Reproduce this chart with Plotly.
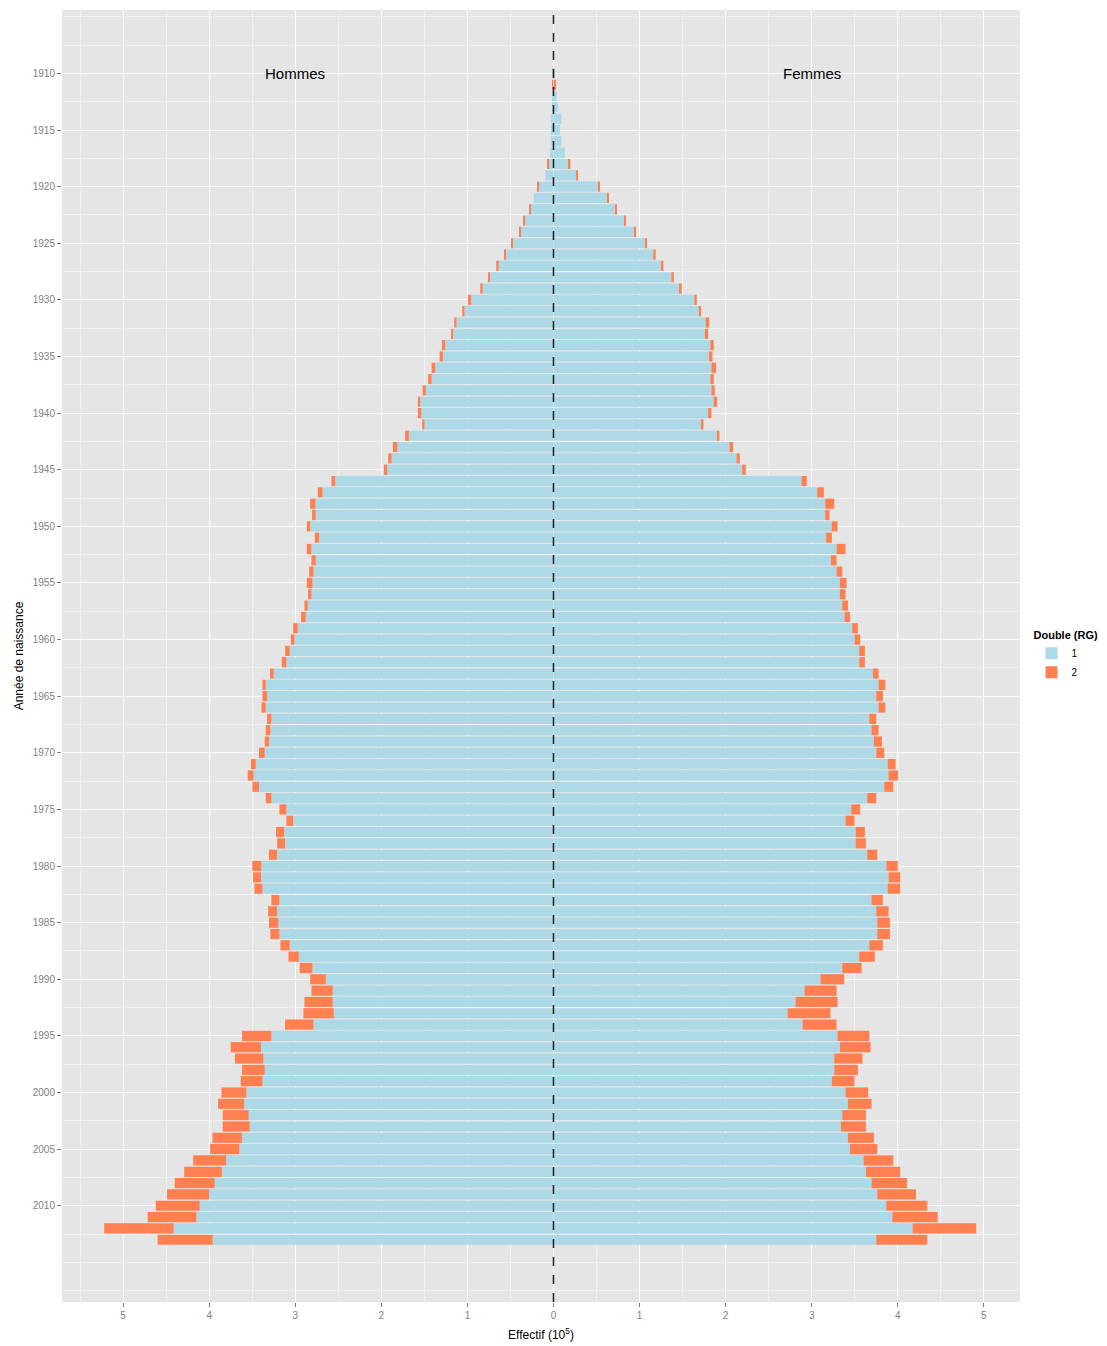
import plotly.graph_objects as go

# Années de naissance 1910-2013, effectifs en unités de 10^5
years = list(range(1910, 2014))

# Hommes : "1" = bleu, "2" = supplément orange
hommes_1 = [
    0.01, 0.005, 0.01, 0.01, 0.03, 0.03, 0.03, 0.04, 0.056, 0.095,
    0.172, 0.227, 0.265, 0.331, 0.38, 0.479, 0.556, 0.637, 0.742, 0.823,
    0.956, 1.033, 1.126, 1.165, 1.258, 1.285, 1.374, 1.416, 1.483, 1.549,
    1.537, 1.498, 1.68, 1.816, 1.881, 1.932, 2.537, 2.684, 2.765, 2.762,
    2.827, 2.723, 2.812, 2.762, 2.788, 2.80, 2.812, 2.855, 2.878, 2.971,
    3.01, 3.064, 3.103, 3.25, 3.343, 3.328, 3.343, 3.277, 3.289, 3.305,
    3.355, 3.459, 3.486, 3.421, 3.277, 3.103, 3.025, 3.13, 3.118, 3.211,
    3.395, 3.398, 3.381, 3.184, 3.211, 3.196, 3.184, 3.064, 2.959, 2.80,
    2.645, 2.564, 2.564, 2.552, 2.788, 3.277, 3.398, 3.37, 3.355, 3.381,
    3.568, 3.595, 3.541, 3.529, 3.62, 3.648, 3.803, 3.853, 3.936, 4.002,
    4.11, 4.149, 4.413, 3.959,
]
hommes_2 = [
    0, 0.01, 0, 0, 0, 0, 0, 0, 0.016, 0,
    0.018, 0, 0.015, 0.016, 0.02, 0.015, 0.016, 0.028, 0.016, 0.028,
    0.038, 0.027, 0.027, 0.025, 0.039, 0.038, 0.042, 0.04, 0.037, 0.027,
    0.039, 0.027, 0.043, 0.05, 0.039, 0.039, 0.042, 0.054, 0.062, 0.043,
    0.039, 0.05, 0.054, 0.05, 0.051, 0.066, 0.039, 0.038, 0.054, 0.054,
    0.042, 0.054, 0.054, 0.043, 0.038, 0.053, 0.05, 0.051, 0.054, 0.05,
    0.066, 0.055, 0.066, 0.077, 0.066, 0.081, 0.078, 0.093, 0.093, 0.094,
    0.104, 0.092, 0.093, 0.093, 0.105, 0.109, 0.105, 0.108, 0.12, 0.148,
    0.182, 0.248, 0.329, 0.353, 0.33, 0.341, 0.352, 0.33, 0.263, 0.253,
    0.29, 0.302, 0.302, 0.314, 0.342, 0.342, 0.383, 0.437, 0.464, 0.488,
    0.51, 0.566, 0.807, 0.64,
]

# Femmes
femmes_1 = [
    0.01, 0.01, 0.037, 0.052, 0.091, 0.076, 0.091, 0.134, 0.18, 0.262,
    0.525, 0.63, 0.723, 0.828, 0.936, 1.064, 1.16, 1.25, 1.37, 1.467,
    1.637, 1.688, 1.769, 1.758, 1.823, 1.808, 1.835, 1.823, 1.835, 1.862,
    1.796, 1.719, 1.905, 2.045, 2.126, 2.192, 2.882, 3.064, 3.157, 3.157,
    3.234, 3.168, 3.289, 3.223, 3.289, 3.328, 3.328, 3.355, 3.382, 3.471,
    3.498, 3.552, 3.552, 3.711, 3.777, 3.75, 3.777, 3.669, 3.695, 3.723,
    3.75, 3.882, 3.893, 3.843, 3.645, 3.459, 3.393, 3.51, 3.51, 3.645,
    3.868, 3.893, 3.882, 3.695, 3.75, 3.762, 3.762, 3.669, 3.552, 3.355,
    3.103, 2.917, 2.812, 2.719, 2.894, 3.30, 3.328, 3.262, 3.262, 3.234,
    3.393, 3.42, 3.355, 3.339, 3.42, 3.444, 3.603, 3.63, 3.695, 3.762,
    3.866, 3.936, 4.172, 3.75,
]
femmes_2 = [
    0, 0.015, 0, 0, 0, 0, 0, 0, 0.016, 0.015,
    0.016, 0.015, 0.015, 0.015, 0.015, 0.023, 0.028, 0.027, 0.027, 0.023,
    0.028, 0.027, 0.039, 0.038, 0.039, 0.039, 0.055, 0.039, 0.039, 0.039,
    0.039, 0.023, 0.023, 0.042, 0.039, 0.042, 0.06, 0.077, 0.105, 0.05,
    0.066, 0.066, 0.104, 0.066, 0.066, 0.077, 0.065, 0.066, 0.062, 0.066,
    0.066, 0.066, 0.066, 0.066, 0.078, 0.078, 0.078, 0.081, 0.082, 0.093,
    0.093, 0.093, 0.109, 0.105, 0.105, 0.105, 0.105, 0.108, 0.12, 0.117,
    0.132, 0.135, 0.146, 0.132, 0.143, 0.147, 0.147, 0.158, 0.182, 0.225,
    0.275, 0.372, 0.488, 0.50, 0.395, 0.369, 0.356, 0.329, 0.275, 0.264,
    0.264, 0.275, 0.275, 0.291, 0.303, 0.318, 0.345, 0.398, 0.412, 0.449,
    0.477, 0.527, 0.74, 0.593,
]

x_ticks = [-5, -4, -3, -2, -1, 0, 1, 2, 3, 4, 5]
y_ticks = list(range(1910, 2011, 5))

BLUE = "#ADD8E6"
CORAL = "#FF7F50"
FONT = "Liberation Sans, Arial, sans-serif"

fig = go.Figure()
fig.add_trace(go.Bar(y=years, x=[-v for v in hommes_1], orientation="h",
                     marker=dict(color=BLUE, line=dict(width=0)),
                     name="1", legendgroup="1", showlegend=True))
fig.add_trace(go.Bar(y=years, x=[-v for v in hommes_2], orientation="h",
                     marker=dict(color=CORAL, line=dict(width=0)),
                     name="2", legendgroup="2", showlegend=True))
fig.add_trace(go.Bar(y=years, x=femmes_1, orientation="h",
                     marker=dict(color=BLUE, line=dict(width=0)),
                     name="1", legendgroup="1", showlegend=False))
fig.add_trace(go.Bar(y=years, x=femmes_2, orientation="h",
                     marker=dict(color=CORAL, line=dict(width=0)),
                     name="2", legendgroup="2", showlegend=False))

fig.add_shape(type="line", x0=0, x1=0, y0=0, y1=1, xref="x", yref="paper",
              line=dict(color="#222222", width=1.5, dash="dash"))

fig.add_annotation(x=-3, y=1910, text="Hommes", showarrow=False,
                   font=dict(size=15, color="black", family=FONT))
fig.add_annotation(x=3, y=1910, text="Femmes", showarrow=False,
                   font=dict(size=15, color="black", family=FONT))

# la page ajoute 8 px de marge autour de la figure
fig.update_layout(
    width=1099, height=1338,
    barmode="relative", bargap=0.1,
    paper_bgcolor="white", plot_bgcolor="#E5E5E5",
    font=dict(family=FONT, size=11, color="black"),
    margin=dict(l=54, r=87, t=2, b=44),
    legend=dict(
        title=dict(text="<b>Double (RG)</b>", font=dict(size=11)),
        x=1.012, xanchor="left", y=0.5, yanchor="middle",
        font=dict(size=10), tracegroupgap=0, traceorder="normal",
    ),
    xaxis=dict(
        range=[-5.71, 5.42], tickvals=x_ticks,
        ticktext=[str(abs(v)) for v in x_ticks],
        showgrid=True, gridcolor="white", gridwidth=1.2, zeroline=False,
        ticks="outside", ticklen=4, tickcolor="#7F7F7F",
        tickfont=dict(size=10, color="#7F7F7F"),
        minor=dict(dtick=0.5, tick0=0, showgrid=True,
                   gridcolor="#F2F2F2", gridwidth=0.6),
        title=dict(text="Effectif (10<sup>5</sup>)", font=dict(size=12),
                   standoff=10),
    ),
    yaxis=dict(
        range=[2018.5, 1904.4], tickvals=y_ticks,
        showgrid=True, gridcolor="white", gridwidth=1.2, zeroline=False,
        ticks="outside", ticklen=4, tickcolor="#7F7F7F",
        tickfont=dict(size=10, color="#7F7F7F"),
        minor=dict(dtick=2.5, tick0=1907.5, showgrid=True,
                   gridcolor="#F2F2F2", gridwidth=0.6),
        title=dict(text="Année de naissance", font=dict(size=12),
                   standoff=6),
    ),
)

fig.write_html("out.html")
